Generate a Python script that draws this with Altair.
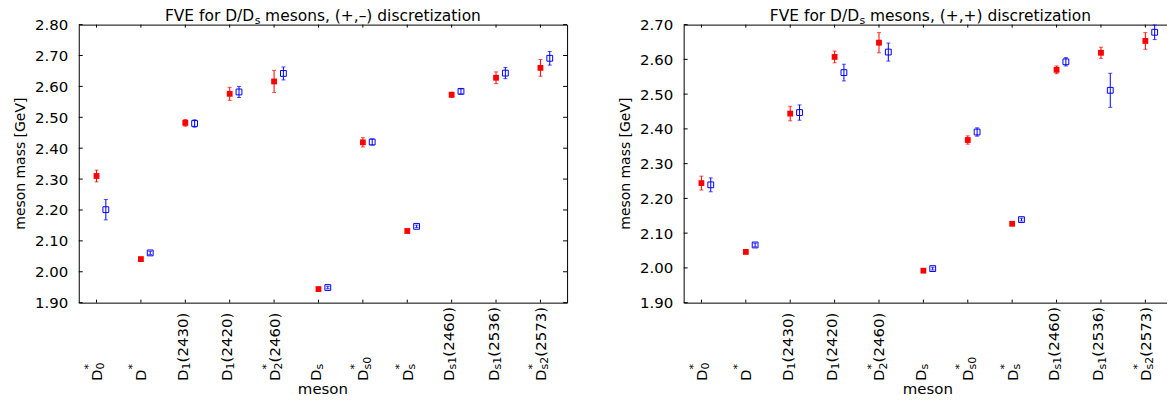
import altair as alt
import pandas as pd

FONT = "DejaVu Sans"

# ---------------- data ----------------
mesons = ["D*0", "D*", "D1(2430)", "D1(2420)", "D*2(2460)", "Ds", "D*s0", "D*s",
          "Ds1(2460)", "Ds1(2536)", "D*s2(2573)"]
positions = [1, 2, 3, 4, 5, 6, 7, 8, 9, 10, 11]
label_sup = ["*", "*", "", "", "*", "", "*", "*", "", "", "*"]
label_sub = ["0", "", "1", "1", "2", "s", "s0", "s", "s1", "s1", "s2"]
label_rest = ["", "", "(2430)", "(2420)", "(2460)", "", "", "", "(2460)", "(2536)", "(2573)"]

# (+,-) discretization
pm_red = [2.310, 2.041, 2.482, 2.576, 2.616, 1.944, 2.419, 2.132, 2.573, 2.628, 2.660]
pm_red_err = [0.019, 0.004, 0.011, 0.021, 0.036, 0.003, 0.015, 0.003, 0.008, 0.019, 0.027]
pm_blue = [2.201, 2.061, 2.480, 2.582, 2.642, 1.949, 2.420, 2.147, 2.584, 2.643, 2.691]
pm_blue_err = [0.033, 0.005, 0.012, 0.018, 0.021, 0.004, 0.010, 0.004, 0.008, 0.018, 0.022]
pm_yticks = [1.90, 2.00, 2.10, 2.20, 2.30, 2.40, 2.50, 2.60, 2.70, 2.80]

# (+,+) discretization
pp_red = [2.244, 2.046, 2.444, 2.607, 2.648, 1.992, 2.368, 2.127, 2.570, 2.619, 2.653]
pp_red_err = [0.020, 0.004, 0.021, 0.017, 0.029, 0.003, 0.012, 0.003, 0.011, 0.016, 0.024]
pp_blue = [2.239, 2.066, 2.447, 2.562, 2.621, 1.998, 2.391, 2.139, 2.593, 2.511, 2.678]
pp_blue_err = [0.020, 0.005, 0.022, 0.024, 0.026, 0.004, 0.012, 0.004, 0.012, 0.049, 0.021]
pp_yticks = [1.90, 2.00, 2.10, 2.20, 2.30, 2.40, 2.50, 2.60, 2.70]

title_pm = ["FVE for D/D", "s", "mesons, (+,\u2013) discretization"]
title_pp = ["FVE for D/D", "s", "mesons, (+,+) discretization"]
x_title = "meson"
y_title = "meson mass [GeV]"

# ---------------- style ----------------
PLOT_H = 279
BLUE_SHIFT = 0.21
X_DOMAIN = [0.6, 11.6]
RED = "#ff0000"
BLUE = "#0000ff"

LAB_FS = 15
SUB_FS = 11
CHAR_W = {"0": 0.636, "1": 0.636, "2": 0.636, "s": 0.521}
D_ADV = 0.770 * LAB_FS
LY = PLOT_H + 78.5
STAR_DY = 5.5
PLAIN_DY = 2.5

TITLE_FS = 15.5
T_SPLIT = 176.0      # end of the part before the subscript
T_SUB = 176.5
T_REST = 187.0
T_BASE = -4


def panel(red, red_err, blue, blue_err, yticks, title_parts, width):
    n = len(positions)
    pts = pd.DataFrame({
        "x": positions + [p + BLUE_SHIFT for p in positions],
        "mass": red + blue,
        "err": red_err + blue_err,
        "series": ["red"] * n + ["blue"] * n,
    })
    pts["lo"] = pts["mass"] - pts["err"]
    pts["hi"] = pts["mass"] + pts["err"]

    xs = alt.Scale(domain=X_DOMAIN, nice=False, zero=False)
    ys = alt.Scale(domain=[min(yticks), max(yticks)], nice=False, zero=False)
    yaxis = alt.Axis(values=[round(v, 2) for v in yticks], format=".2f", labelFont=FONT,
                     labelFontSize=15, labelColor="black", labelPadding=11, ticks=False,
                     tickSize=0, domain=False, grid=False, title=None, labelFlush=False,
                     labelOverlap=False)

    def X(f):
        return alt.X(f, scale=xs, axis=None)

    def Y(f):
        return alt.Y(f, scale=ys, axis=yaxis)

    color = alt.Color("series:N", scale=alt.Scale(domain=["red", "blue"], range=[RED, BLUE]),
                      legend=None)

    base = alt.Chart(pts)
    bars = base.mark_rule(strokeWidth=1).encode(x=X("x:Q"), y=Y("lo:Q"), y2="hi:Q", color=color)
    cap_lo = base.mark_tick(orient="horizontal", size=4, thickness=1).encode(
        x=X("x:Q"), y=Y("lo:Q"), color=color)
    cap_hi = base.mark_tick(orient="horizontal", size=4, thickness=1).encode(
        x=X("x:Q"), y=Y("hi:Q"), color=color)
    red_pts = alt.Chart(pts[pts.series == "red"]).mark_point(
        shape="square", filled=True, size=34, color=RED, opacity=1).encode(
        x=X("x:Q"), y=Y("mass:Q"))
    blue_pts = alt.Chart(pts[pts.series == "blue"]).mark_point(
        shape="square", filled=False, size=34, color=BLUE, strokeWidth=1, opacity=1).encode(
        x=X("x:Q"), y=Y("mass:Q"))

    # inward ticks on all four sides
    ydf = pd.DataFrame({"v": yticks})
    xdf = pd.DataFrame({"p": positions})
    tick_l = alt.Chart(ydf).mark_rule(color="black", strokeWidth=1).encode(
        y=Y("v:Q"), x=alt.value(0), x2=alt.value(4))
    tick_r = alt.Chart(ydf).mark_rule(color="black", strokeWidth=1).encode(
        y=Y("v:Q"), x=alt.value(width - 4), x2=alt.value(width))
    tick_b = alt.Chart(xdf).mark_rule(color="black", strokeWidth=1).encode(
        x=X("p:Q"), y=alt.value(PLOT_H - 3), y2=alt.value(PLOT_H))
    tick_t = alt.Chart(xdf).mark_rule(color="black", strokeWidth=1).encode(
        x=X("p:Q"), y=alt.value(0), y2=alt.value(3))

    # rotated tick labels built from pieces (D, superscript, subscript, rest)
    lab = pd.DataFrame({"p": positions, "sup": label_sup, "sub": label_sub, "rest": label_rest})
    lab["star"] = lab["sup"] != ""
    lab["subw"] = lab["sub"].apply(lambda s: round(sum(CHAR_W[c] for c in s) * SUB_FS, 2))
    common = dict(angle=270, align="left", baseline="alphabetic", font=FONT, color="black")
    label_layers = []
    for star in [True, False]:
        g = lab[lab.star == star]
        bdy = STAR_DY if star else PLAIN_DY
        label_layers.append(alt.Chart(g).mark_text(text="D", fontSize=LAB_FS, dx=0, dy=bdy,
                                                   **common).encode(x=X("p:Q"), y=alt.value(LY)))
        if star:
            label_layers.append(alt.Chart(g).mark_text(fontSize=SUB_FS, dx=D_ADV, dy=-4.5,
                                                       **common).encode(
                x=X("p:Q"), y=alt.value(LY), text="sup:N"))
        gs = g[g["sub"] != ""]
        label_layers.append(alt.Chart(gs).mark_text(fontSize=SUB_FS, dx=D_ADV, dy=bdy + 2.3,
                                                    **common).encode(
            x=X("p:Q"), y=alt.value(LY), text="sub:N"))
        gr = g[g["rest"] != ""]
        for w in sorted(gr["subw"].unique()):
            gw = gr[gr["subw"] == w]
            label_layers.append(alt.Chart(gw).mark_text(fontSize=LAB_FS, dx=D_ADV + w, dy=bdy,
                                                        **common).encode(
                x=X("p:Q"), y=alt.value(LY), text="rest:N"))

    # titles
    tdf = pd.DataFrame({"a": [title_parts[0]], "s": [title_parts[1]], "b": [title_parts[2]],
                        "xt": [x_title], "yt": [y_title]})
    t1 = alt.Chart(tdf).mark_text(font=FONT, fontSize=TITLE_FS, align="right",
                                  baseline="alphabetic", color="black").encode(
        text="a:N", x=alt.value(T_SPLIT), y=alt.value(T_BASE))
    t2 = alt.Chart(tdf).mark_text(font=FONT, fontSize=11, align="left", baseline="alphabetic",
                                  color="black").encode(
        text="s:N", x=alt.value(T_SUB), y=alt.value(T_BASE + 3.5))
    t3 = alt.Chart(tdf).mark_text(font=FONT, fontSize=TITLE_FS, align="left",
                                  baseline="alphabetic", color="black").encode(
        text="b:N", x=alt.value(T_REST), y=alt.value(T_BASE))
    xt = alt.Chart(tdf).mark_text(font=FONT, fontSize=15, align="center", baseline="alphabetic",
                                  color="black").encode(
        text="xt:N", x=alt.value(width / 2), y=alt.value(PLOT_H + 92))
    yt = alt.Chart(tdf).mark_text(font=FONT, fontSize=14, align="center", baseline="alphabetic",
                                  angle=270, color="black").encode(
        text="yt:N", x=alt.value(-54), y=alt.value(PLOT_H / 2))

    return alt.layer(bars, cap_lo, cap_hi, red_pts, blue_pts, tick_l, tick_r, tick_b, tick_t,
                     *label_layers, t1, t2, t3, xt, yt).properties(width=width, height=PLOT_H)


left = panel(pm_red, pm_red_err, pm_blue, pm_blue_err, pm_yticks, title_pm, 490)
right = panel(pp_red, pp_red_err, pp_blue, pp_blue_err, pp_yticks, title_pp, 490)

chart = alt.hconcat(left, right, spacing=50).properties(
    padding={"left": 5, "top": -1, "right": -6, "bottom": 0},
    background="white",
).configure_view(stroke="black", strokeWidth=1)

chart.save("out.html", embed_options={"renderer": "svg", "actions": False})
